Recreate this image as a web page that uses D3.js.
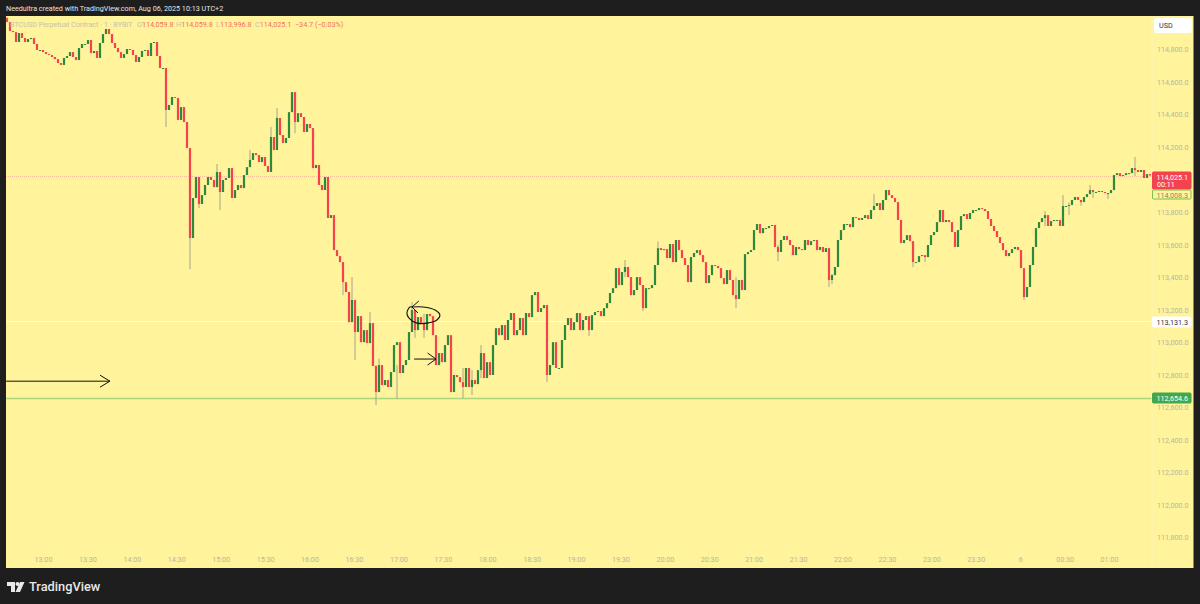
<!DOCTYPE html>
<html lang="en">

<head>
    <meta charset="UTF-8">
    <title>BTCUSD Perpetual Contract 1m</title>
    <script src="https://d3js.org/d3.v7.min.js"></script>
    <style>
        html, body { margin: 0; padding: 0; background: #1e1e1e; overflow: hidden; }
        text { font-family: Roboto, "Noto Sans", sans-serif; }
    </style>
</head>

<body>
    <svg id="chart" width="1200" height="604"></svg>
    <script>
        // closes, one every two minutes, each bar opens at the previous close
        var closes = [
            114969, 114914, 114907, 114846, 114901, 114871, 114846, 114864, 114871, 114834,
            114797, 114797, 114784, 114772, 114766, 114754, 114741, 114717, 114705, 114748,
            114760, 114784, 114754, 114735, 114809, 114834, 114834, 114858, 114778, 114791,
            114748, 114840, 114895, 114926, 114895, 114840, 114809, 114784, 114748, 114772,
            114803, 114797, 114766, 114723, 114754, 114791, 114797, 114760, 114840, 114846,
            114760, 114686, 114686, 114428, 114459, 114508, 114502, 114367, 114446, 114354,
            114194, 113641, 113887, 114016, 113850, 113905, 113967, 114016, 113998, 113954,
            114047, 113924, 113998, 114010, 114071, 113887, 113936, 113967, 113948, 114028,
            114077, 114121, 114163, 114151, 114108, 114139, 114084, 114047, 114262, 114182,
            114379, 114274, 114225, 114256, 114415, 114538, 114354, 114409, 114385, 114293,
            114342, 114317, 114071, 114090, 113967, 113936, 114016, 113764, 113782, 113567,
            113530, 113493, 113370, 113309, 113124, 113260, 113063, 113161, 113001, 113075,
            112995, 113118, 112854, 112694, 112860, 112737, 112768, 112725, 112817, 112983,
            113001, 112811, 112860, 112891, 113063, 113198, 113075, 113155, 113118, 113075,
            113174, 113161, 113044, 112860, 112934, 112878, 112983, 113044, 112694, 112799,
            112786, 112755, 112725, 112842, 112725, 112768, 112743, 112829, 112934, 112780,
            112878, 112799, 112983, 113087, 113044, 113106, 113014, 113137, 113180, 113044,
            113075, 113149, 113044, 113180, 113155, 113290, 113309, 113186, 113210, 113229,
            112799, 112860, 113001, 112842, 112842, 113014, 113106, 113149, 113075, 113124,
            113180, 113075, 113137, 113161, 113075, 113167, 113186, 113192, 113161, 113210,
            113241, 113303, 113333, 113456, 113352, 113432, 113463, 113401, 113290, 113321,
            113401, 113352, 113210, 113333, 113333, 113352, 113475, 113579, 113567, 113573,
            113518, 113604, 113493, 113629, 113567, 113518, 113475, 113370, 113524, 113549,
            113567, 113536, 113493, 113364, 113413, 113475, 113469, 113456, 113395, 113358,
            113444, 113383, 113290, 113266, 113383, 113321, 113542, 113555, 113567, 113690,
            113727, 113671, 113702, 113702, 113715, 113721, 113586, 113555, 113629, 113653,
            113629, 113598, 113536, 113586, 113573, 113567, 113629, 113598, 113622, 113629,
            113567, 113586, 113555, 113579, 113383, 113413, 113463, 113629, 113690, 113727,
            113727, 113708, 113770, 113764, 113752, 113764, 113782, 113758, 113813, 113838,
            113856, 113813, 113875, 113936, 113905, 113887, 113862, 113752, 113610, 113629,
            113659, 113622, 113493, 113493, 113530, 113536, 113524, 113598, 113659, 113678,
            113739, 113813, 113739, 113752, 113739, 113678, 113586, 113690, 113776, 113788,
            113758, 113795, 113813, 113813, 113825, 113819, 113807, 113758, 113715, 113684,
            113647, 113610, 113567, 113530, 113549, 113573, 113586, 113567, 113456, 113278,
            113340, 113475, 113586, 113702, 113739, 113764, 113782, 113715, 113745, 113752,
            113752, 113715, 113838, 113838, 113844, 113875, 113893, 113875, 113862, 113893,
            113911, 113936, 113924, 113924, 113930, 113924, 113917, 113917, 113936, 114028,
            114040, 114022, 114028, 114040, 114040, 114071, 114059, 114047, 114059, 114010,
            114034, 114025
        ];
        var firstOpen = 114995;

        // the wicks that stand out: bar number, low, high
        var wickBars = [53, 61, 64, 70, 71, 81, 88, 90, 96, 112, 115, 116, 121, 123, 124, 130, 135, 136, 139, 152, 155, 158, 180, 194, 206, 212, 217, 243, 257, 274, 275, 289, 302, 306, 339, 346, 352, 354, 358, 361, 362, 367, 376];
        var wickLows = [114323, 113450, 113825, 113990, 113813, 114077, 114047, 114274, 114286, 113290, 113229, 112891, 113118, 112614, 112700, 112651, 113075, 113026, 113026, 112657, 112676, 112780, 112756, 113039, 113401, 113192, 113530, 113211, 113499, 113340, 113358, 113813, 113462, 113493, 113260, 113715, 113838, 113782, 113840, 113924, 113887, 113880, 114022];
        var wickHighs = [114500, 114190, 114016, 114096, 113998, 114182, 114323, 114440, 114420, 113383, 113401, 113075, 113186, 112860, 112900, 112860, 113247, 113198, 113174, 112842, 112829, 112983, 112860, 113100, 113506, 113352, 113620, 113400, 113600, 113440, 113420, 113911, 113540, 113530, 113350, 113807, 113905, 113860, 113875, 113967, 113924, 113917, 114139];

        // 114,000 sits behind the last price tag in the picture, so it is not listed
        var priceTicks = [114800, 114600, 114400, 114200, 113800, 113600, 113400, 113200, 113000, 112800, 112600, 112400, 112200, 112000, 111800];
        var timeLabels = ["13:00", "13:30", "14:00", "14:30", "15:00", "15:30", "16:00", "16:30", "17:00", "17:30", "18:00", "18:30", "19:00", "19:30", "20:00", "20:30", "21:00", "21:30", "22:00", "22:30", "23:00", "23:30", "6", "00:30", "01:00"];

        var lastPrice = 114025.1;
        var bidPrice = 114008.3;
        var whitePrice = 113131.3;
        var greenPrice = 112654.6;

        // hand drawn marks, in bar number and price
        var longArrow = [[-0.3, 112761], [34.3, 112761]];
        var longHead = [[31, 112798], [34.3, 112761], [31, 112724]];
        var shortArrow = [[135.7, 112897], [143, 112897]];
        var shortHead = [[140.2, 112934], [143, 112897], [140.2, 112860]];
        var loop = [[135, 113217], [138.7, 113217], [142.7, 113198], [144.3, 113167], [143.3, 113137], [140, 113118], [136.7, 113118], [134, 113149], [133.3, 113180], [134.3, 113217], [135, 113217]];
        var loopHead = [[137.3, 113254], [135, 113217], [137, 113180]];

        var upColor = "#2b8a3e", downColor = "#f4434f", wickColor = "#a6a48c";
        var axisColor = "#b9b6a0";

        var svg = d3.select("#chart");

        svg.append("rect").attr("width", 1200).attr("height", 604).attr("fill", "#1e1e1e");
        svg.append("rect").attr("x", 6).attr("y", 16).attr("width", 1187.5).attr("height", 552).attr("fill", "#fff39b");

        var x = d3.scaleLinear().domain([0, closes.length - 1]).range([7, 1150]);
        var y = d3.scaleLinear().domain([114800, 111800]).range([49.5, 537.5]);
        var timeX = d3.scalePoint().domain(timeLabels).range([43, 1109]);

        svg.append("text")
            .attr("x", 6).attr("y", 10.5)
            .attr("fill", "#e4e4e4").attr("font-size", 7.2)
            .text("Needultra created with TradingView.com, Aug 06, 2025 10:13 UTC+2");

        // price lines
        function priceLine(price, color, width, dash) {
            var py = Math.round(y(price)) + 0.5;
            svg.append("line").attr("x1", 6).attr("x2", 1152)
                .attr("y1", py).attr("y2", py)
                .attr("stroke", color).attr("stroke-width", width).attr("stroke-dasharray", dash);
        }
        priceLine(lastPrice, "#f9bd9a", 1, "1,1");
        priceLine(whitePrice, "#fffbe6", 1, null);
        priceLine(greenPrice, "#a9d67c", 1.5, null);

        // wicks
        svg.append("g").selectAll("line")
            .data(wickBars)
            .join("line")
            .attr("x1", d => x(d)).attr("x2", d => x(d))
            .attr("y1", (d, i) => y(wickHighs[i]))
            .attr("y2", (d, i) => y(wickLows[i]))
            .attr("stroke", wickColor).attr("stroke-width", 1);

        // bodies
        svg.append("g").selectAll("rect")
            .data(closes)
            .join("rect")
            .attr("x", (d, i) => x(i) - 1.1)
            .attr("width", 2.2)
            .attr("y", (d, i) => y(Math.max(d, i ? closes[i - 1] : firstOpen)))
            .attr("height", (d, i) => Math.max(1, Math.abs(y(d) - y(i ? closes[i - 1] : firstOpen))))
            .attr("fill", (d, i) => d >= (i ? closes[i - 1] : firstOpen) ? upColor : downColor);

        // drawings
        var drawLine = d3.line().x(d => x(d[0])).y(d => y(d[1]));
        var drawCurve = d3.line().x(d => x(d[0])).y(d => y(d[1])).curve(d3.curveCatmullRom);

        [longArrow, longHead, shortArrow, shortHead, loopHead].forEach(function (a) {
            svg.append("path").attr("d", drawLine(a)).attr("fill", "none").attr("stroke", "#111").attr("stroke-width", 1);
        });
        svg.append("path").attr("d", drawCurve(loop)).attr("fill", "none").attr("stroke", "#111").attr("stroke-width", 1.1);

        // legend
        var legend = svg.append("text").attr("x", 10).attr("y", 27).attr("font-size", 7.2);
        legend.append("tspan").attr("fill", "#c6c3a8").text("BTCUSD Perpetual Contract · 1 · BYBIT");
        [["O", "114,059.8", 137], ["H", "114,059.8", 176], ["L", "113,996.8", 216], ["C", "114,025.1", 255]].forEach(function (p) {
            legend.append("tspan").attr("x", p[2]).attr("fill", "#c6c3a8").text(p[0]);
            legend.append("tspan").attr("fill", "#f4705f").text(p[1]);
        });
        legend.append("tspan").attr("x", 295).attr("fill", "#f4705f").text("−34.7 (−0.03%)");

        // axes
        var priceAxis = d3.axisRight(y).tickValues(priceTicks).tickFormat(d3.format(",.1f")).tickSize(0).tickPadding(0);
        svg.append("g").attr("transform", "translate(1157,0)").call(priceAxis)
            .call(g => g.select(".domain").remove())
            .call(g => g.selectAll("text").attr("fill", axisColor).attr("font-size", 7.2).attr("font-family", "Roboto"));

        var timeAxis = d3.axisBottom(timeX).tickSize(0).tickPadding(0);
        svg.append("g").attr("transform", "translate(0,557)").call(timeAxis)
            .call(g => g.select(".domain").remove())
            .call(g => g.selectAll("text").attr("fill", axisColor).attr("font-size", 7.2).attr("font-family", "Roboto"));

        svg.append("line").attr("x1", 1152).attr("x2", 1152).attr("y1", 16).attr("y2", 568).attr("stroke", "#fff6b4");

        // price tags
        function tag(price, top, h, fill, stroke, color, label, sub) {
            svg.append("rect").attr("x", 1152.5).attr("y", Math.round(y(price)) + top).attr("width", 38.5).attr("height", h)
                .attr("rx", 1).attr("fill", fill).attr("stroke", stroke);
            svg.append("text").attr("x", 1188).attr("y", Math.round(y(price)) + top + 7.5).attr("text-anchor", "end")
                .attr("font-size", 7.2).attr("fill", color).text(label);
            if (sub) {
                svg.append("text").attr("x", 1157).attr("y", Math.round(y(price)) + top + 14.5).attr("font-size", 7.2).attr("fill", color).text(sub);
            }
        }
        tag(lastPrice, -4, 17, "#f4434f", "#f4434f", "#fff", "114,025.1", "00:11");
        tag(bidPrice, 12, 9, "#fff39b", "#7cc04f", "#8a8a70", "114,008.3");
        tag(whitePrice, -4, 10, "#fff", "#fff", "#333", "113,131.3");
        tag(greenPrice, -5, 10, "#43a84d", "#43a84d", "#fff", "112,654.6");

        // currency box
        svg.append("rect").attr("x", 1154).attr("y", 18).attr("width", 38).attr("height", 15).attr("rx", 2).attr("fill", "#fff");
        svg.append("text").attr("x", 1159).attr("y", 28).attr("font-size", 7.2).attr("fill", "#333").text("USD");

        // logo
        var logo = svg.append("g").attr("transform", "translate(7,582)").attr("fill", "#e8e8e8");
        logo.append("path").attr("d", "M0 0H8V10H4V4H0Z");
        logo.append("circle").attr("cx", 10.5).attr("cy", 2).attr("r", 2);
        logo.append("path").attr("d", "M13 0H17.5L13 10H8.5Z");
        svg.append("text").attr("x", 29).attr("y", 591).attr("font-family", "Inter").attr("font-size", 12.8)
            .attr("font-weight", 500).attr("fill", "#e8e8e8").text("TradingView");
    </script>
</body>

</html>
